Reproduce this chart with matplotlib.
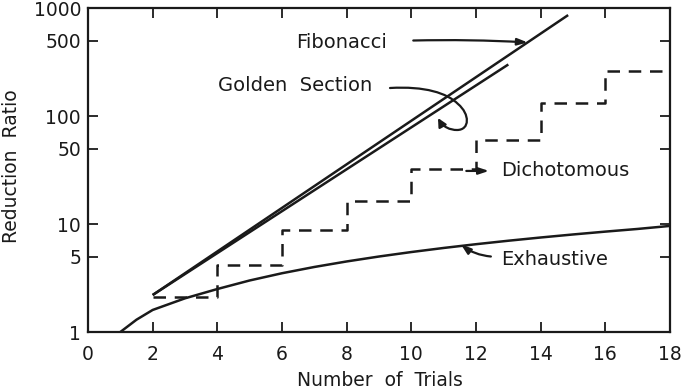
import numpy as np
import matplotlib.pyplot as plt
from matplotlib.path import Path
from matplotlib.patches import FancyArrowPatch

# values
fib_n = [2, 14.85]
fib_ratio = [2.2, 860]

gold_n = [2, 13]
gold_ratio = [2.2, 300]

dich_edges = [2, 4, 6, 8, 10, 12, 14, 16, 18]
dich_ratio = [2.1, 4.2, 8.8, 16.2, 32, 60, 132, 260]

exh_n = [1, 1.5, 2, 3, 4, 5, 6, 7, 8, 9, 10, 11, 12, 13, 14, 15, 16, 17, 18]
exh_ratio = [1.0, 1.3, 1.6, 2.05, 2.5, 3.0, 3.5, 4.0, 4.5, 5.0, 5.5, 6.0, 6.5,
             7.0, 7.5, 8.0, 8.5, 9.0, 9.6]

xticks = [0, 2, 4, 6, 8, 10, 12, 14, 16, 18]
yticks = [1, 5, 10, 50, 100, 500, 1000]

plt.rcParams['font.family'] = ['DejaVu Sans']
fig = plt.figure(figsize=(6.85, 3.9), dpi=100)
ax = fig.add_axes([88/685, 58/390, 582/685, 324/390])

lw = 1.8
ax.plot(fib_n, fib_ratio, color='#1a1a1a', lw=lw, solid_capstyle='butt')
ax.plot(gold_n, gold_ratio, color='#1a1a1a', lw=lw, solid_capstyle='butt')
ax.plot(exh_n, exh_ratio, color='#1a1a1a', lw=lw)

# dichotomous staircase
sx = []
sy = []
for i, r in enumerate(dich_ratio):
    sx += [dich_edges[i], dich_edges[i + 1]]
    sy += [r, r]
ax.plot(sx, sy, color='#1a1a1a', lw=lw, ls=(0, (5, 3.5)))

ax.set_yscale('log')
ax.set_xlim(0, 18)
ax.set_ylim(1, 1000)
ax.set_xticks(xticks)
ax.set_xticklabels([str(t) for t in xticks])
ax.set_yticks(yticks)
ax.set_yticklabels([str(t) for t in yticks])
ax.minorticks_off()
ax.tick_params(direction='in', length=7, width=1.3, top=True, right=True,
               labelsize=13.5, colors='#1a1a1a')
ax.tick_params(axis='x', pad=9)
ax.tick_params(axis='y', pad=5)
for s in ax.spines.values():
    s.set_linewidth(1.6)
    s.set_color('#1a1a1a')

fs = 14
tc = '#1a1a1a'
ax.text(6.45, 480, 'Fibonacci', fontsize=fs, va='center', color=tc)
ax.text(4.02, 190, 'Golden  Section', fontsize=fs, va='center', color=tc)
ax.text(12.77, 31, 'Dichotomous', fontsize=fs, va='center', color=tc)
ax.text(12.77, 4.7, 'Exhaustive', fontsize=fs, va='center', color=tc)

arrow = dict(arrowstyle='-|>,head_length=0.6,head_width=0.2', color=tc, lw=1.6,
             shrinkA=0, shrinkB=0)
ax.annotate('', xy=(13.6, 480), xytext=(10.06, 500),
            arrowprops=dict(arrow, connectionstyle='arc3,rad=-0.02'))
ax.annotate('', xy=(12.4, 31), xytext=(11.7, 31), arrowprops=arrow)
ax.annotate('', xy=(11.53, 6.5), xytext=(12.46, 5.0),
            arrowprops=dict(arrow, connectionstyle='arc3,rad=-0.15'))


# golden section loop arrow, drawn in axes fraction
def px(x, y):
    return ((x - 88) / 582, (332 - y) / 324)


verts = [px(390, 88), px(425, 86), px(447, 93), px(458, 104),
         px(470, 114), px(470, 130), px(457, 130),
         px(450, 130), px(443, 127), px(438, 118)]
codes = [Path.MOVETO] + [Path.CURVE4] * 9
loop = FancyArrowPatch(path=Path(verts, codes), transform=ax.transAxes,
                       arrowstyle='-|>,head_length=5,head_width=2.5',
                       color=tc, lw=1.6)
ax.add_patch(loop)

fig.text(380/685, 1 - 380/390, 'Number  of  Trials', fontsize=13.5,
         ha='center', va='center', color=tc)
fig.text(12/685, 1 - 166/390, 'Reduction  Ratio', fontsize=13.5,
         ha='center', va='center', rotation=90, color=tc)

fig.savefig('out.png', dpi=100)
